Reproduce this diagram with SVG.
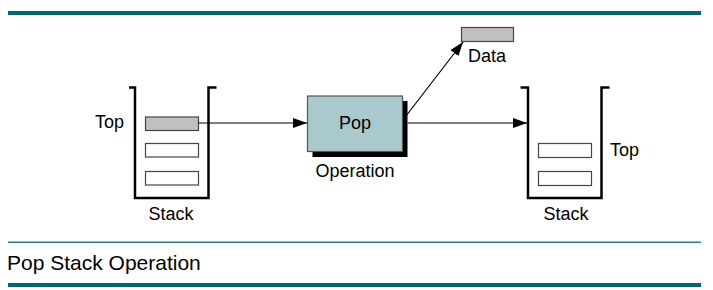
<svg xmlns="http://www.w3.org/2000/svg" width="713" height="290" viewBox="0 0 713 290">
<style>
  text { font-family: "Liberation Sans", Arial, sans-serif; font-size: 18px; fill: #000; }
  .stack { fill: none; stroke: #000; stroke-width: 2.5; stroke-linejoin: miter; }
  .slot { fill: #fff; stroke: #444; stroke-width: 1.2; }
  .slot.full { fill: #c0c0c0; }
  .conn { fill: none; stroke: #000; stroke-width: 1.2; }
  .bar { fill: #00676a; }
  .caption { font-size: 21px; }
</style>
<defs>
  <marker id="arrow" viewBox="0 0 14 10" refX="14" refY="5" markerWidth="14" markerHeight="10" markerUnits="userSpaceOnUse" orient="auto">
    <path d="M0,0 L14,5 L0,10 Z" fill="#000"/>
  </marker>
</defs>
<rect class="bar" x="8" y="11" width="693" height="4"/>
<g id="stack-left">
  <path class="stack" d="M129,87.5 H135 V198 H208.5 V87.5 H216.5"/>
  <rect class="slot full" x="145.5" y="117" width="53" height="13.5"/>
  <rect class="slot" x="145.5" y="143.5" width="53" height="13.5"/>
  <rect class="slot" x="145.5" y="171.5" width="53" height="13.5"/>
  <text x="95" y="128">Top</text>
  <text x="171" y="219.5" text-anchor="middle">Stack</text>
</g>
<g id="pop">
  <rect x="312.5" y="101" width="95" height="56" fill="#000"/>
  <rect x="307.5" y="96" width="95" height="55.5" fill="#a9c9cc" stroke="#555" stroke-width="1.2"/>
  <text x="355" y="128.5" text-anchor="middle">Pop</text>
  <text x="355" y="177" text-anchor="middle">Operation</text>
</g>
<g id="data">
  <rect x="461.5" y="27.5" width="52" height="14" fill="#c0c0c0" stroke="#444" stroke-width="1.2"/>
  <text x="487" y="62" text-anchor="middle">Data</text>
</g>
<g id="stack-right">
  <path class="stack" d="M520.5,87.5 H528 V198 H601.5 V87.5 H609.5"/>
  <rect class="slot" x="538.5" y="143.5" width="53" height="14"/>
  <rect class="slot" x="538.5" y="171.5" width="53" height="14"/>
  <text x="610" y="155.5">Top</text>
  <text x="566" y="219.5" text-anchor="middle">Stack</text>
</g>
<g id="connectors">
  <line class="conn" x1="198.5" y1="123" x2="307" y2="123" marker-end="url(#arrow)"/>
  <line class="conn" x1="407.5" y1="123" x2="527" y2="123" marker-end="url(#arrow)"/>
  <line class="conn" x1="406" y1="116" x2="463" y2="42" marker-end="url(#arrow)"/>
</g>
<rect x="8" y="241.5" width="693" height="1.6" fill="#2a7f80"/>
<text class="caption" x="7" y="270">Pop Stack Operation</text>
<rect class="bar" x="8" y="283" width="693" height="4"/>
</svg>
